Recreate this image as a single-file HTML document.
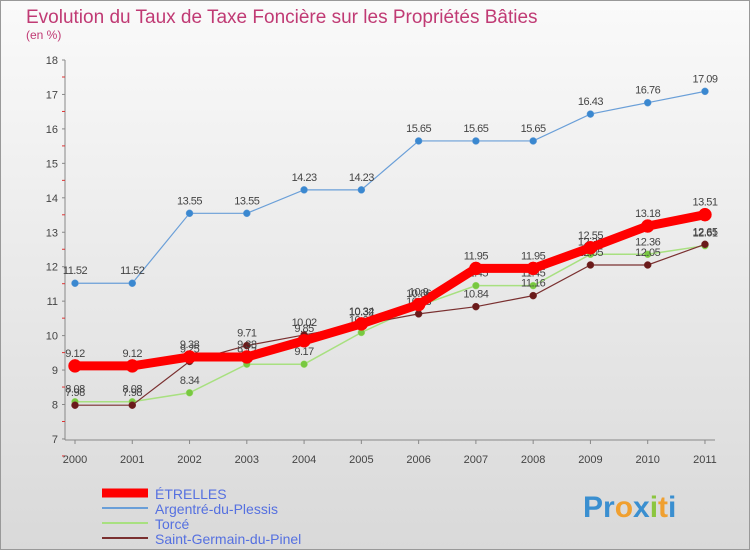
<!DOCTYPE html>
<html><head><meta charset="utf-8"><style>
body{margin:0;width:750px;height:550px;overflow:hidden;font-family:"Liberation Sans",sans-serif}
</style></head><body>
<svg width="750" height="550" xmlns="http://www.w3.org/2000/svg">
<defs><linearGradient id="bg" x1="0" y1="0" x2="0" y2="1"><stop offset="0" stop-color="#fafafa"/><stop offset="1" stop-color="#d9d9d9"/></linearGradient></defs>
<rect x="0.5" y="0.5" width="749" height="549" fill="url(#bg)" stroke="#999"/>
<text x="26" y="23" font-size="19" fill="#c03a74">Evolution du Taux de Taxe Foncière sur les Propriétés Bâties</text>
<text x="26" y="39" font-size="12" fill="#c03a74">(en %)</text>
<g id="axes"></g><g id="series"></g><g id="legend"></g>
<text x="583" y="517" font-size="30" font-weight="bold" fill="#f0a030"><tspan fill="#3a8fd0">Pr</tspan><tspan fill="#f0a030">o</tspan><tspan fill="#3a8fd0">x</tspan><tspan fill="#8cc63f">i</tspan><tspan fill="#f0a030">t</tspan><tspan fill="#3a8fd0">i</tspan></text>
</svg>
<script>
const years=["2000","2001","2002","2003","2004","2005","2006","2007","2008","2009","2010","2011"];
const etrelles=[9.12,9.12,9.38,9.38,9.85,10.34,10.9,11.95,11.95,12.55,13.18,13.51];
const argentre=[11.52,11.52,13.55,13.55,14.23,14.23,15.65,15.65,15.65,16.43,16.76,17.09];
const torce=[8.08,8.08,8.34,9.17,9.17,10.09,10.86,11.45,11.45,12.36,12.36,12.61];
const stgermain=[7.98,7.98,9.25,9.71,10.02,10.32,10.63,10.84,11.16,12.05,12.05,12.65];
const yTicks=[7,8,9,10,11,12,13,14,15,16,17,18];
const NS="http://www.w3.org/2000/svg";
const X=i=>75+i*57.27, Y=v=>60+(18-v)*34.45;
function mk(t,a,p){const e=document.createElementNS(NS,t);for(const k in a)e.setAttribute(k,a[k]);p.appendChild(e);return e;}
const ax=document.getElementById('axes');
const yl=mk('line',{x1:65,y1:60,x2:65,y2:440,stroke:'#888'},ax);


const xl=mk('line',{x1:65,y1:440,x2:715,y2:440,stroke:'#888'},ax);


yTicks.forEach(v=>{const t=mk('text',{x:58,y:Y(v)+4,'font-size':11,'text-anchor':'end',fill:'#444'},ax);t.textContent=v;


mk('line',{x1:62,y1:Y(v),x2:65,y2:Y(v),stroke:'#888'},ax);
mk('line',{x1:62,y1:Y(v)+17,x2:65,y2:Y(v)+17,stroke:'#d33'},ax);});
years.forEach((y,i)=>{const t=mk('text',{x:X(i),y:463,'font-size':11,'text-anchor':'middle',fill:'#444'},ax);t.textContent=y;


mk('line',{x1:X(i),y1:440,x2:X(i),y2:444,stroke:'#888'},ax);});
const sg=document.getElementById('series');
function draw(vals,color,w,r,fill,name){
const g=mk('g',{},sg);


mk('polyline',{points:vals.map((v,i)=>X(i)+','+Y(v)).join(' '),fill:'none',stroke:color,'stroke-width':w},g);
vals.forEach((v,i)=>{const c=mk('circle',{cx:X(i),cy:Y(v),r:r,fill:fill,stroke:color,'stroke-width':0.5},g);


const t=mk('text',{x:X(i),y:Y(v)-9,'font-size':11,'text-anchor':'middle',fill:'#444','letter-spacing':'-0.5'},g);t.textContent=v;

});}
draw(argentre,'#6a9fd8',1.2,3.5,'#3a88d0','argentre');
draw(torce,'#a8e080',1.5,3.5,'#78c840','torce');
draw(stgermain,'#7a3030',1.2,3.5,'#6a1a1a','saint-germain');
draw(etrelles,'#ff0000',9,6.5,'#ff0000','etrelles');
const lg=document.getElementById('legend');
const items=[["ÉTRELLES","#ff0000",9],["Argentré-du-Plessis","#6a9fd8",2],["Torcé","#a8e080",2],["Saint-Germain-du-Pinel","#7a3030",2]];
items.forEach((it,i)=>{const y=493+i*15;
const l=mk('line',{x1:102,y1:y,x2:148,y2:y,stroke:it[1],'stroke-width':it[2]},lg);


const t=mk('text',{x:155,y:y+6,'font-size':14,fill:'#5570e0'},lg);t.textContent=it[0];

});
</script>
</body></html>
